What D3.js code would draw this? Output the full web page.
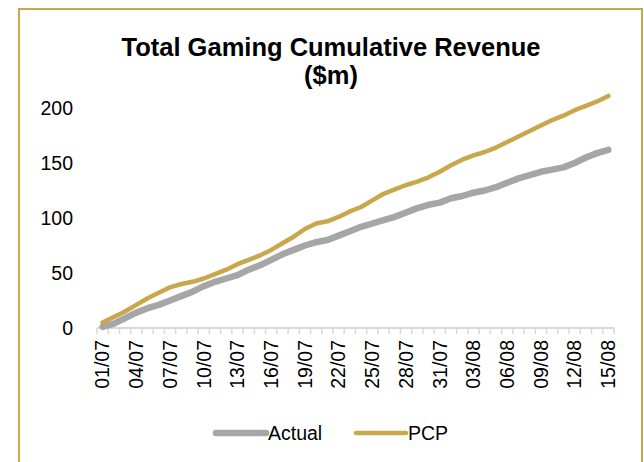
<!DOCTYPE html>
<html>
<head>
<meta charset="utf-8">
<script src="https://cdn.jsdelivr.net/npm/d3@7/dist/d3.min.js"></script>
<style>
  html, body { margin: 0; padding: 0; background: #ffffff; }
  svg { display: block; font-family: "Liberation Sans", Arial, sans-serif; }
</style>
</head>
<body>
<svg id="chart" width="644" height="462"></svg>
<script>
// Daily categories 01/07 .. 15/08
const dates = [];
(function () {
  const pad = n => String(n).padStart(2, "0");
  for (let d = 1; d <= 31; d++) dates.push(pad(d) + "/07");
  for (let d = 1; d <= 15; d++) dates.push(pad(d) + "/08");
})();

// Cumulative revenue ($m)
const actual = [1, 4, 9, 14, 18, 21, 25, 29, 33, 38, 42, 45, 48, 53, 57, 62, 67, 71, 75, 78,
  80, 84, 88, 92, 95, 98, 101, 105, 109, 112, 114, 118, 120, 123, 125, 128, 132, 136, 139, 142,
  144, 146, 150, 155, 159, 162];
const pcp = [5, 10, 15, 21, 27, 32, 37, 40, 42, 45, 49, 53, 58, 62, 66, 71, 77, 83, 90, 95,
  97, 101, 106, 110, 116, 122, 126, 130, 133, 137, 142, 148, 153, 157, 160, 164, 169, 174, 179, 184,
  189, 193, 198, 202, 206, 211];

const yTicks = [0, 50, 100, 150, 200];
const titleLines = ["Total Gaming Cumulative Revenue", "($m)"];
const seriesNames = ["Actual", "PCP"];
const seriesColors = ["#A6A6A6", "#C9A84C"];

const svg = d3.select("#chart");

// outer frame
svg.append("rect")
  .attr("x", 19).attr("y", 9)
  .attr("width", 623).attr("height", 460)
  .attr("fill", "none")
  .attr("stroke", "#C9A84C")
  .attr("stroke-width", 2);

// title
const title = svg.append("text")
  .attr("text-anchor", "middle")
  .attr("font-weight", "bold")
  .attr("font-size", 25.5)
  .attr("fill", "#000");
titleLines.forEach((t, i) => {
  title.append("tspan").attr("x", 331).attr("y", 56 + i * 28).text(t);
});

const x = d3.scaleBand().domain(dates).range([97, 614]).padding(0);
const y = d3.scaleLinear().domain([0, 200]).range([328, 108]);
const cx = d => x(d) + x.bandwidth() / 2;

// y axis labels (no axis line)
const yAxis = svg.append("g")
  .attr("transform", "translate(73,0)")
  .call(d3.axisLeft(y).tickValues(yTicks).tickSize(0).tickPadding(0));
yAxis.select(".domain").remove();
yAxis.selectAll("text")
  .attr("font-size", 19.5)
  .attr("font-family", "Liberation Sans, Arial, sans-serif")
  .attr("fill", "#000");

// x axis: line + tick marks between categories
const xAxisG = svg.append("g");
const bounds = dates.map(d => x(d)).concat([x.range()[1]]);
xAxisG.append("line")
  .attr("x1", x.range()[0]).attr("x2", x.range()[1])
  .attr("y1", 328).attr("y2", 328)
  .attr("stroke", "#D9D9D9").attr("stroke-width", 2);
xAxisG.selectAll("line.tk").data(bounds).join("line")
  .attr("class", "tk")
  .attr("x1", d => d).attr("x2", d => d)
  .attr("y1", 328).attr("y2", 334)
  .attr("stroke", "#D9D9D9").attr("stroke-width", 1.5);

// x labels every third day
const xLab = svg.append("g")
  .attr("transform", "translate(0,328)")
  .call(d3.axisBottom(x).tickValues(dates.filter((d, i) => i % 3 === 0)).tickSize(0).tickPadding(0));
xLab.select(".domain").remove();
xLab.selectAll("text")
  .attr("font-size", 19.5)
  .attr("font-family", "Liberation Sans, Arial, sans-serif")
  .attr("fill", "#000")
  .attr("text-anchor", "end")
  .attr("dy", "0.35em")
  .attr("transform", "translate(0,12) rotate(-90)")
  .attr("x", 0).attr("y", 0);

// series lines
const line = d3.line()
  .x((v, i) => cx(dates[i]))
  .y(v => y(v))
  .curve(d3.curveLinear);

[actual, pcp].forEach((vals, k) => {
  svg.append("path")
    .datum(vals)
    .attr("d", line)
    .attr("fill", "none")
    .attr("stroke", seriesColors[k])
    .attr("stroke-width", k === 0 ? 6.5 : 4.5)
    .attr("stroke-linecap", "round")
    .attr("stroke-linejoin", "round");
});

// legend
const legend = svg.append("g").attr("transform", "translate(0,433)");
const legendX = [216, 356];
seriesNames.forEach((name, k) => {
  const g = legend.append("g").attr("transform", `translate(${legendX[k]},0)`);
  g.append("line")
    .attr("x1", 0).attr("x2", 50).attr("y1", 0).attr("y2", 0)
    .attr("stroke", seriesColors[k])
    .attr("stroke-width", k === 0 ? 6.5 : 4.5)
    .attr("stroke-linecap", "round");
  g.append("text")
    .attr("x", 52).attr("y", 0).attr("dy", "0.35em")
    .attr("font-size", 19.5)
    .attr("fill", "#000")
    .text(name);
});
</script>
</body>
</html>
